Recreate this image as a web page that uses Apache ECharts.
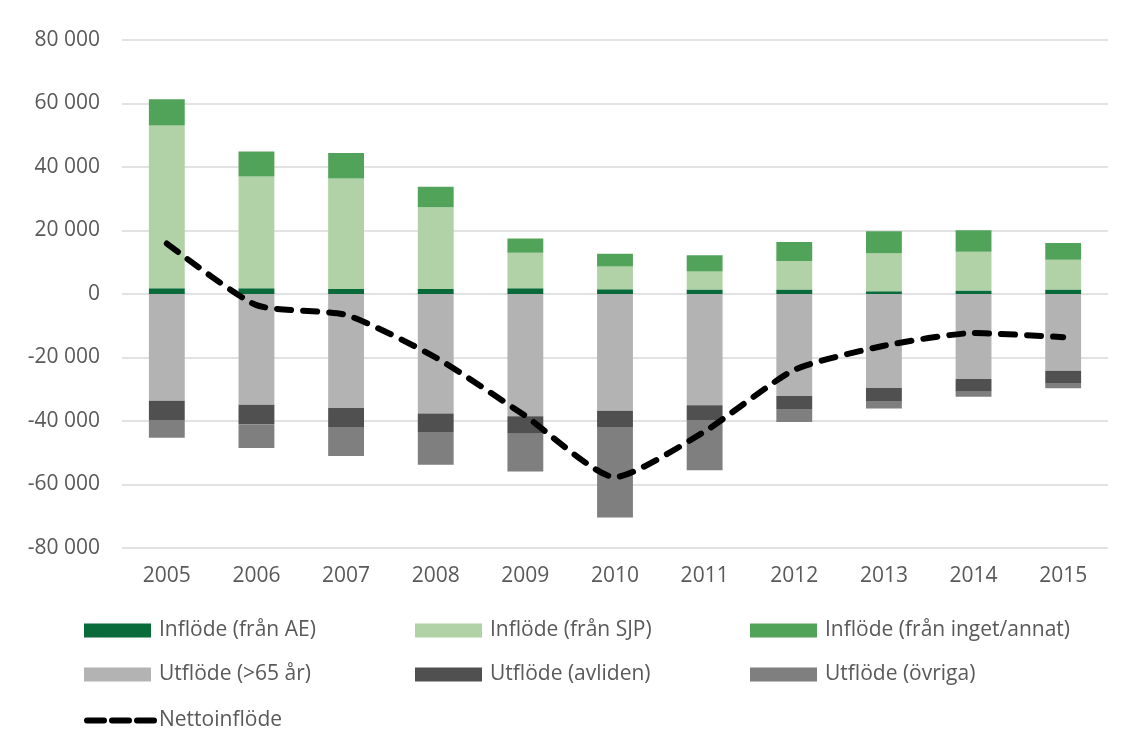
<!DOCTYPE html>
<html>
<head>
<meta charset="utf-8">
<script src="https://cdn.jsdelivr.net/npm/echarts@6/dist/echarts.min.js"></script>
<style>
  html, body { margin: 0; padding: 0; background: #fff; }
  #chart { width: 1124px; height: 749px; }
</style>
</head>
<body>
<div id="chart"></div>
<script>
// years on the category axis
const years = ['2005', '2006', '2007', '2008', '2009', '2010', '2011', '2012', '2013', '2014', '2015'];

// inflows (positive stack)
const inflodeAE = [1800, 1800, 1600, 1600, 1800, 1500, 1400, 1400, 900, 1100, 1400];
const inflodeSJP = [51300, 35200, 34800, 25700, 11200, 7200, 5700, 9000, 11900, 12200, 9400];
const inflodeInget = [8200, 7900, 8000, 6500, 4500, 4000, 5100, 6000, 7000, 6800, 5300];

// outflows (negative stack)
const utflode65 = [-33600, -34900, -35900, -37600, -38500, -36800, -35000, -32100, -29600, -26800, -24200];
const utflodeAvliden = [-6100, -6100, -6000, -5900, -5500, -5100, -4700, -4100, -4100, -4000, -3800];
const utflodeOvriga = [-5600, -7500, -9100, -10300, -11900, -28500, -15800, -4100, -2400, -1600, -1700];

// net inflow line
const netto = [15900, -3500, -6600, -20000, -38400, -57700, -43300, -23900, -16300, -12300, -13600];

const FONT = '"Open Sans", "Noto Sans", sans-serif';
const TEXT = '#595959';

function fmt(v) {
  const s = String(Math.abs(v)).replace(/\B(?=(\d{3})+(?!\d))/g, ' ');
  return (v < 0 ? '-' : '') + s;
}

function bar(name, data, color) {
  return {
    name: name,
    type: 'bar',
    stack: 'flow',
    barWidth: '40%',
    data: data,
    itemStyle: { color: color },
    emphasis: { disabled: true }
  };
}

// one legend block per item so the columns line up like the original
function legendItem(name, left, top, isLine) {
  const l = {
    data: [name],
    left: left,
    top: top,
    padding: 0,
    itemWidth: 67,
    itemHeight: 14,
    selectedMode: false,
    textStyle: { fontFamily: FONT, fontSize: 21, color: TEXT, padding: [0, 0, 0, 3] }
  };
  if (isLine) {
    l.itemStyle = { opacity: 0 };
    l.lineStyle = { color: '#000', width: 6, type: [17, 8], cap: 'round' };
    l.textStyle.padding = [0, 0, 0, 0];
  } else {
    l.icon = 'rect';
  }
  return l;
}

const chart = echarts.init(document.getElementById('chart'));

const option = {
  backgroundColor: '#fff',
  animation: false,
  grid: { left: 122, right: 16, top: 40, bottom: 201 },
  legend: [
    legendItem('Inflöde (från AE)', 84, 620),
    legendItem('Inflöde (från SJP)', 415, 620),
    legendItem('Inflöde (från inget/annat)', 750, 620),
    legendItem('Utflöde (>65 år)', 84, 664),
    legendItem('Utflöde (avliden)', 415, 664),
    legendItem('Utflöde (övriga)', 750, 664),
    legendItem('Nettoinflöde', 84, 710, true)
  ],
  xAxis: {
    type: 'category',
    data: years,
    axisLine: { show: false, onZero: false },
    axisTick: { show: false },
    axisLabel: { fontFamily: FONT, fontSize: 21, color: TEXT, margin: 18 }
  },
  yAxis: {
    type: 'value',
    min: -80000,
    max: 80000,
    interval: 20000,
    axisLine: { show: false },
    axisTick: { show: false },
    splitLine: { lineStyle: { color: '#d9d9d9', width: 1.5 } },
    axisLabel: { fontFamily: FONT, fontSize: 21, color: TEXT, margin: 22, formatter: fmt }
  },
  series: [
    bar('Inflöde (från AE)', inflodeAE, '#086b39'),
    bar('Inflöde (från SJP)', inflodeSJP, '#b0d2a6'),
    bar('Inflöde (från inget/annat)', inflodeInget, '#52a35a'),
    bar('Utflöde (>65 år)', utflode65, '#b3b3b3'),
    bar('Utflöde (avliden)', utflodeAvliden, '#505050'),
    bar('Utflöde (övriga)', utflodeOvriga, '#7f7f7f'),
    {
      name: 'Nettoinflöde',
      type: 'line',
      data: netto,
      smooth: 0.2,
      symbol: 'none',
      z: 5,
      lineStyle: { color: '#000', width: 6, type: [14, 12], cap: 'round' },
      itemStyle: { color: '#000' },
      emphasis: { disabled: true }
    }
  ]
};

chart.setOption(option);
</script>
</body>
</html>
